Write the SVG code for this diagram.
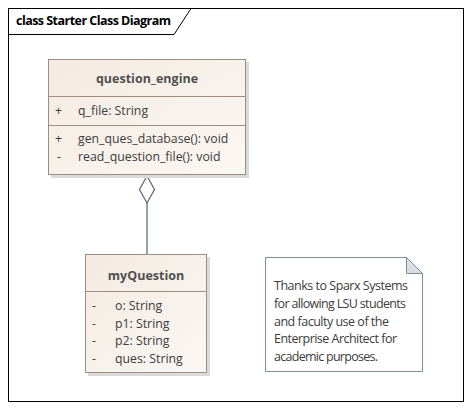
<svg xmlns="http://www.w3.org/2000/svg" width="472" height="415" viewBox="0 0 472 415">
<style>
  text { font-family: "Open Sans", "Noto Sans", "DejaVu Sans", sans-serif; fill: #3c3c3c; }
  .title { font-weight: bold; font-size: 12.5px; fill: #000; }
  .cname { font-weight: bold; font-size: 12.5px; fill: #505050; }
  .mem { font-size: 12.3px; }
  .note { font-size: 12.5px; fill: #3c3c3c; }
  .cls { fill: url(#clsgrad); stroke: #9d8e84; stroke-width: 1; }
  .sep { stroke: #9d8e84; stroke-width: 1; }
  .shadow { fill: #dadada; }
  .conn { stroke: #5f6e7e; stroke-width: 1.3; fill: none; }
</style>
<defs>
  <linearGradient id="clsgrad" x1="0" y1="0" x2="1" y2="1">
    <stop offset="0" stop-color="#f4ebe2"/>
    <stop offset="1" stop-color="#fbf7f3"/>
  </linearGradient>
</defs>
<rect x="0" y="0" width="472" height="415" fill="#ffffff"/>
<g id="frame">
  <rect x="8.5" y="8.5" width="455" height="393" fill="none" stroke="#000" stroke-width="1"/>
  <path d="M8.5 34.5 H174 L191 8.5" fill="none" stroke="#000" stroke-width="1"/>
  <text class="title" x="16" y="25" textLength="155" lengthAdjust="spacing">class Starter Class Diagram</text>
</g>
<g id="connectors">
  <line class="conn" x1="147" y1="203" x2="147" y2="254"/>
  <polygon points="147,176 154.5,189.5 147,203 139.5,189.5" fill="#ffffff" stroke="#5f6e7e" stroke-width="1.3"/>
</g>
<g id="question_engine">
  <rect class="shadow" x="51" y="62" width="198" height="116"/>
  <rect class="cls" x="48.5" y="59.5" width="197" height="115"/>
  <line class="sep" x1="48.5" y1="96.5" x2="245.5" y2="96.5"/>
  <line class="sep" x1="48.5" y1="125.5" x2="245.5" y2="125.5"/>
  <text class="cname" x="147" y="83" text-anchor="middle">question_engine</text>
  <text class="mem" x="55" y="115">+</text>
  <text class="mem" x="78" y="115">q_file: String</text>
  <text class="mem" x="55" y="143">+</text>
  <text class="mem" x="78" y="143">gen_ques_database(): void</text>
  <text class="mem" x="57" y="161">-</text>
  <text class="mem" x="78" y="161">read_question_file(): void</text>
</g>
<g id="myQuestion">
  <rect class="shadow" x="88" y="257" width="122" height="119"/>
  <rect class="cls" x="85.5" y="254.5" width="121" height="118"/>
  <line class="sep" x1="85.5" y1="291.5" x2="206.5" y2="291.5"/>
  <text class="cname" x="146" y="280" text-anchor="middle">myQuestion</text>
  <text class="mem" x="92" y="310">-</text>
  <text class="mem" x="115" y="310">o: String</text>
  <text class="mem" x="92" y="327.5">-</text>
  <text class="mem" x="115" y="327.5">p1: String</text>
  <text class="mem" x="92" y="345">-</text>
  <text class="mem" x="115" y="345">p2: String</text>
  <text class="mem" x="92" y="362.5">-</text>
  <text class="mem" x="115" y="362.5">ques: String</text>
</g>
<g id="note">
  <path d="M265.5 257.5 H406.5 L422.5 273.5 V371.5 H265.5 Z" fill="#ffffff" stroke="#7d8e9b" stroke-width="1"/>
  <path d="M406.5 257.5 V273.5 H422.5 Z" fill="#d9dde1" stroke="#7d8e9b" stroke-width="1"/>
  <text class="note" x="274" y="290" textLength="134" lengthAdjust="spacing">Thanks to Sparx Systems</text>
  <text class="note" x="274" y="308" textLength="132" lengthAdjust="spacing">for allowing LSU students</text>
  <text class="note" x="274" y="325.5" textLength="115" lengthAdjust="spacing">and faculty use of the</text>
  <text class="note" x="274" y="343" textLength="123" lengthAdjust="spacing">Enterprise Architect for</text>
  <text class="note" x="274" y="361" textLength="104" lengthAdjust="spacing">academic purposes.</text>
</g>
</svg>
